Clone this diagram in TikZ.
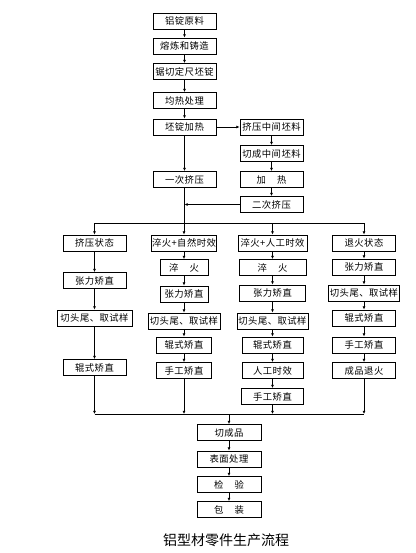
\documentclass[tikz,border=0pt]{standalone}
\usepackage{fontspec}
\usepackage{tikz}
\usetikzlibrary{arrows.meta}
\newfontfamily\cjk[LetterSpace=5]{Noto Sans CJK SC}
\newfontfamily\cjktitle{Noto Sans CJK SC}

\tikzset{
  proc/.style={draw, line width=0.6pt, inner sep=0pt, minimum height=12pt,
    minimum width=47.25pt, font=\cjk\fontsize{7}{8}\selectfont},
  wd/.style={minimum width=#1*0.75pt},
  flow/.style={line width=0.6pt, -{Latex[length=2.4pt,width=2.2pt]}},
  link/.style={line width=0.6pt}
}

\begin{document}
\begin{tikzpicture}[x=0.75pt, y=-0.75pt]
  \useasboundingbox (0,0) rectangle (416,553);

  % Main line
  \node[proc] (raw) at (184.5,21) {铝锭原料};
  \node[proc] (melt) at (184.5,46) {熔炼和铸造};
  \node[proc] (saw) at (184.5,71.5) {锯切定尺坯锭};
  \node[proc] (homog) at (184.5,100.5) {均热处理};
  \node[proc] (heat) at (184.5,127) {坯锭加热};
  \node[proc] (press1) at (184.5,179.5) {一次挤压};

  % Second extrusion
  \node[proc] (midpress) at (271.5,127) {挤压中间坯料};
  \node[proc] (midcut) at (271.5,153.5) {切成中间坯料};
  \node[proc] (reheat) at (271.5,179.5) {加\hspace{1.2em}热};
  \node[proc] (press2) at (271.5,204.5) {二次挤压};

  \draw[flow] (raw) -- (melt);
  \draw[flow] (melt) -- (saw);
  \draw[flow] (saw) -- (homog);
  \draw[flow] (homog) -- (heat);
  \draw[flow] (heat) -- (midpress);
  \draw[flow] (heat) -- (press1);
  \draw[flow] (midpress) -- (midcut);
  \draw[flow] (midcut) -- (reheat);
  \draw[flow] (reheat) -- (press2);
  \draw[flow] (press2.west) -- (press2.west -| press1.south);

  % Branches
  \coordinate (split) at (184.5,223);
  \node[proc] (a1) at (94.5,243) {挤压状态};
  \node[proc, wd=65] (b1) at (184,243) {淬火+自然时效};
  \node[proc, wd=69] (c1) at (272.5,243) {淬火+人工时效};
  \node[proc] (d1) at (364,243) {退火状态};

  \draw[link] (press1) -- (split);
  \draw[link] (a1 |- split) -- (d1 |- split);
  \draw[flow] (a1 |- split) -- (a1);
  \draw[flow] (b1 |- split) -- (b1);
  \draw[flow] (c1 |- split) -- (c1);
  \draw[flow] (d1 |- split) -- (d1);

  % Column 1
  \node[proc] (a2) at (94.5,280.5) {张力矫直};
  \node[proc, wd=75] (a3) at (94.5,318) {切头尾、取试样};
  \node[proc] (a4) at (94.5,367.5) {辊式矫直};
  \draw[flow] (a1) -- (a2);
  \draw[flow] (a2) -- (a3);
  \draw[flow] (a3) -- (a4);

  % Column 2
  \node[proc, wd=48] (b2) at (184,267.5) {淬\hspace{1.2em}火};
  \node[proc, wd=48] (b3) at (184,294) {张力矫直};
  \node[proc, wd=72] (b4) at (184,321) {切头尾、取试样};
  \node[proc, wd=55] (b5) at (184,345) {辊式矫直};
  \node[proc, wd=55] (b6) at (184,370.5) {手工矫直};
  \draw[flow] (b1) -- (b2);
  \draw[flow] (b2) -- (b3);
  \draw[flow] (b3) -- (b4);
  \draw[flow] (b4) -- (b5);
  \draw[flow] (b5) -- (b6);

  % Column 3
  \node[proc, wd=67] (c2) at (272.5,267.5) {淬\hspace{1.2em}火};
  \node[proc, wd=66] (c3) at (272.5,293) {张力矫直};
  \node[proc, wd=71] (c4) at (272.5,321) {切头尾、取试样};
  \node[proc, wd=61] (c5) at (272.5,345) {辊式矫直};
  \node[proc, wd=61] (c6) at (272.5,370.5) {人工时效};
  \node[proc, wd=62] (c7) at (272.5,396.5) {手工矫直};
  \draw[flow] (c1) -- (c2);
  \draw[flow] (c2) -- (c3);
  \draw[flow] (c3) -- (c4);
  \draw[flow] (c4) -- (c5);
  \draw[flow] (c5) -- (c6);
  \draw[flow] (c6) -- (c7);

  % Column 4
  \node[proc] (d2) at (364,267) {张力矫直};
  \node[proc, wd=71] (d3) at (364,293) {切头尾、取试样};
  \node[proc] (d4) at (364,318) {辊式矫直};
  \node[proc] (d5) at (364,345) {手工矫直};
  \node[proc] (d6) at (364,370.5) {成品退火};
  \draw[flow] (d1) -- (d2);
  \draw[flow] (d2) -- (d3);
  \draw[flow] (d3) -- (d4);
  \draw[flow] (d4) -- (d5);
  \draw[flow] (d5) -- (d6);

  % Merge
  \coordinate (merge) at (229,414);
  \draw[link] (a4 |- merge) -- (d6 |- merge);
  \draw[flow] (a4) -- (a4 |- merge);
  \draw[flow] (b6) -- (b6 |- merge);
  \draw[flow] (c7) -- (c7 |- merge);
  \draw[flow] (d6) -- (d6 |- merge);

  % Finishing
  \node[proc, wd=64] (cut) at (229,432.5) {切成品};
  \node[proc, wd=64] (surf) at (229,459) {表面处理};
  \node[proc, wd=64] (check) at (229,484.5) {检\hspace{1.2em}验};
  \node[proc, wd=64] (pack) at (229,509.5) {包\hspace{1.2em}装};
  \draw[flow] (merge) -- (cut);
  \draw[flow] (cut) -- (surf);
  \draw[flow] (surf) -- (check);
  \draw[flow] (check) -- (pack);

  % Title
  \node[font=\cjktitle\fontsize{10.5}{12}\selectfont] (title) at (226,540) {铝型材零件生产流程};
\end{tikzpicture}
\end{document}
